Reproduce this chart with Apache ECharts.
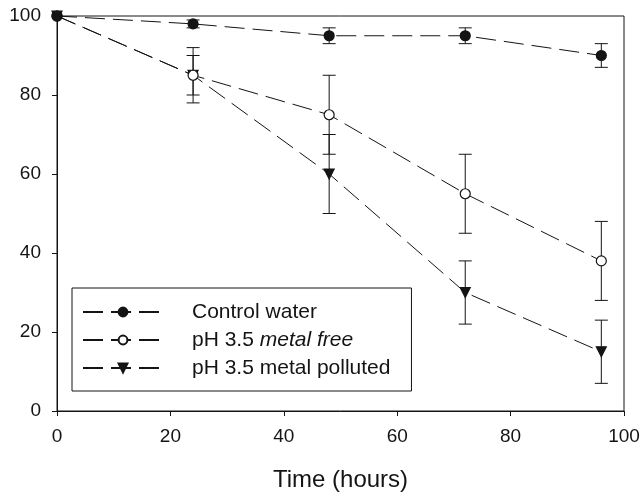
<!DOCTYPE html>
<html>
<head>
<meta charset="utf-8">
<script src="https://cdn.jsdelivr.net/npm/echarts@6/dist/echarts.min.js"></script>
<style>
    html, body { margin: 0; padding: 0; background: #fff; }
    #chart { width: 644px; height: 494px; }
</style>
</head>
<body>
<div id="chart"></div>
<script>
// values
var hours = [0, 24, 48, 72, 96];
var xTicks = [0, 20, 40, 60, 80, 100];
var yTicks = [0, 20, 40, 60, 80, 100];

var controlWater = [100, 98, 95, 95, 90];
var controlLow = [null, 97, 93, 93, 87];
var controlHigh = [null, 99, 97, 97, 93];

var metalFree = [100, 85, 75, 55, 38];
var metalFreeLow = [null, 78, 65, 45, 28];
var metalFreeHigh = [null, 92, 85, 65, 48];

var metalPolluted = [100, 85, 60, 30, 15];
var pollutedLow = [null, 80, 50, 22, 7];
var pollutedHigh = [null, 90, 70, 38, 23];

var seriesNames = ['Control water', 'pH 3.5 metal free', 'pH 3.5 metal polluted'];

var ink = '#141414';
var font = '"Liberation Sans", Arial, sans-serif';

function pairs(ys) {
    return hours.map(function (h, i) { return [h, ys[i]]; });
}

function bars(lo, hi) {
    var out = [];
    for (var i = 0; i < hours.length; i++) {
        if (lo[i] == null) continue;
        out.push([hours[i], lo[i], hi[i]]);
    }
    return out;
}

// error bar: vertical line with caps
function renderErrorBar(params, api) {
    var x = api.value(0);
    var top = api.coord([x, api.value(2)]);
    var bot = api.coord([x, api.value(1)]);
    var w = 6.5;
    var style = { stroke: ink, lineWidth: 1 };
    return {
        type: 'group',
        children: [
            { type: 'line', shape: { x1: top[0], y1: top[1], x2: bot[0], y2: bot[1] }, style: style },
            { type: 'line', shape: { x1: top[0] - w, y1: top[1], x2: top[0] + w, y2: top[1] }, style: style },
            { type: 'line', shape: { x1: bot[0] - w, y1: bot[1], x2: bot[0] + w, y2: bot[1] }, style: style }
        ]
    };
}

function lineSeries(name, ys, symbol, size, fill) {
    return {
        name: name,
        type: 'line',
        data: pairs(ys),
        symbol: symbol,
        symbolSize: size,
        showAllSymbol: true,
        clip: false,
        z: 5,
        lineStyle: { color: ink, width: 1, type: [20, 8] },
        itemStyle: { color: fill, borderColor: ink, borderWidth: 1.2 },
        emphasis: { disabled: true }
    };
}

function errorSeries(lo, hi) {
    return {
        type: 'custom',
        data: bars(lo, hi),
        renderItem: renderErrorBar,
        clip: false,
        z: 3,
        silent: true
    };
}

var axisCommon = {
    type: 'value',
    min: 0,
    max: 100,
    interval: 20,
    axisLine: { show: true, lineStyle: { color: ink, width: 1 } },
    axisTick: { show: true, inside: false, length: 5, lineStyle: { color: ink } },
    splitLine: { show: false },
    axisLabel: { color: ink, fontSize: 19, fontFamily: font, margin: 16 }
};

var chart = echarts.init(document.getElementById('chart'));
var option = {
    backgroundColor: '#fff',
    animation: false,
    grid: {
        left: 57, right: 20, top: 16, bottom: 83,
        containLabel: false,
        outerBoundsMode: 'none',
        show: true, borderColor: ink, borderWidth: 1, backgroundColor: 'transparent'
    },
    xAxis: Object.assign({}, axisCommon, {
        name: 'Time (hours)',
        nameLocation: 'middle',
        nameGap: 57,
        nameTextStyle: { color: ink, fontSize: 24, fontFamily: font }
    }),
    yAxis: Object.assign({}, axisCommon),
    legend: {
        orient: 'vertical',
        left: 72,
        top: 288,
        data: seriesNames,
        itemWidth: 80,
        itemHeight: 11,
        itemGap: 6,
        padding: [13, 21, 12, 10],
        borderColor: ink,
        borderWidth: 1,
        backgroundColor: '#fff',
        selectedMode: false,
        formatter: function (name) {
            if (name === 'pH 3.5 metal free') return 'pH 3.5 {i|metal free}';
            return name;
        },
        textStyle: {
            color: ink, fontSize: 21, fontFamily: font, lineHeight: 22,
            padding: [0, 0, 0, 24],
            rich: { i: { fontStyle: 'italic', color: ink, fontSize: 21, fontFamily: font, lineHeight: 22 } }
        }
    },
    series: [
        errorSeries(controlLow, controlHigh),
        errorSeries(metalFreeLow, metalFreeHigh),
        errorSeries(pollutedLow, pollutedHigh),
        lineSeries(seriesNames[2], metalPolluted, 'path://M0,0 L10,0 L5,9 Z', 10, ink),
        lineSeries(seriesNames[1], metalFree, 'circle', 10, '#fff'),
        lineSeries(seriesNames[0], controlWater, 'circle', 10, ink)
    ]
};
chart.setOption(option);
</script>
</body>
</html>
